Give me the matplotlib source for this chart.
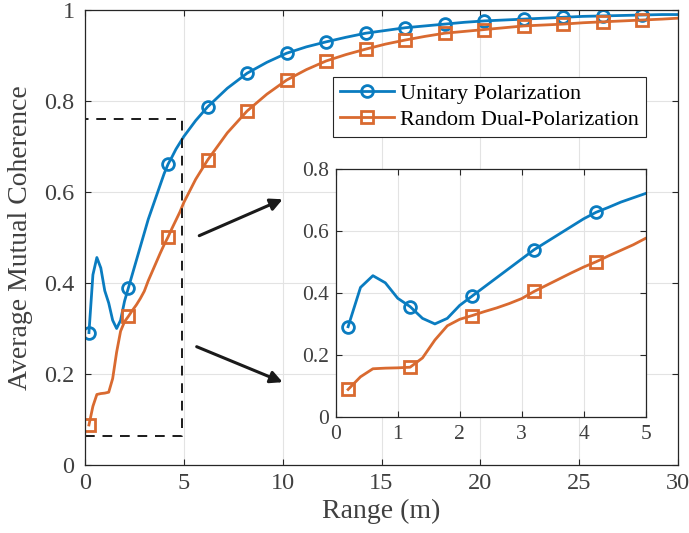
import numpy as np
import matplotlib
matplotlib.use("Agg")
import matplotlib.pyplot as plt

plt.rcParams['font.family'] = ['Liberation Serif', 'DejaVu Serif']
plt.rcParams['mathtext.fontset'] = 'stix'

# ---- data ----
range_m = [0.2, 0.4, 0.6, 0.8, 1.0, 1.2, 1.4, 1.6, 1.8, 2.0, 2.2, 2.4, 2.6, 2.8, 3.0,
           3.2, 3.4, 3.6, 3.8, 4.0, 4.2, 4.4, 4.6, 4.8, 5.0, 5.6, 6.2, 7.2, 8.2, 9.2,
           10.2, 11.2, 12.2, 13.2, 14.2, 15.2, 16.2, 17.2, 18.2, 19.2, 20.2, 21.2,
           22.2, 23.2, 24.2, 25.2, 26.2, 27.2, 28.2, 29.2, 30.0]
unitary = [0.291, 0.418, 0.456, 0.433, 0.383, 0.356, 0.318, 0.300, 0.318, 0.360, 0.390,
           0.420, 0.450, 0.480, 0.510, 0.540, 0.565, 0.590, 0.615, 0.640, 0.661, 0.677,
           0.694, 0.708, 0.722, 0.757, 0.787, 0.828, 0.861, 0.885, 0.905, 0.919, 0.930,
           0.940, 0.949, 0.955, 0.961, 0.965, 0.969, 0.973, 0.976, 0.978, 0.980, 0.982,
           0.984, 0.986, 0.987, 0.988, 0.989, 0.990, 0.990]
dual = [0.088, 0.129, 0.155, 0.157, 0.158, 0.160, 0.190, 0.248, 0.294, 0.315, 0.327,
        0.340, 0.352, 0.366, 0.382, 0.405, 0.425, 0.445, 0.465, 0.484, 0.501, 0.520,
        0.538, 0.556, 0.577, 0.628, 0.670, 0.730, 0.778, 0.815, 0.846, 0.869, 0.888,
        0.902, 0.914, 0.925, 0.934, 0.942, 0.949, 0.953, 0.957, 0.961, 0.965, 0.967,
        0.969, 0.972, 0.974, 0.976, 0.978, 0.980, 0.982]
main_marker_x = [0.2, 2.2, 4.2, 6.2, 8.2, 10.2, 12.2, 14.2, 16.2, 18.2, 20.2, 22.2,
                 24.2, 26.2, 28.2]
inset_marker_x = [0.2, 1.2, 2.2, 3.2, 4.2]
labels = ['Unitary Polarization', 'Random Dual-Polarization']
main_xticks = [0, 5, 10, 15, 20, 25, 30]
main_yticks = [0, 0.2, 0.4, 0.6, 0.8, 1]
inset_xticks = [0, 1, 2, 3, 4, 5]
inset_yticks = [0, 0.2, 0.4, 0.6, 0.8]

x = np.array(range_m)
main_idx = [int(i) for i in np.where(np.isin(np.round(x, 1), main_marker_x))[0]]
inset_idx = [int(i) for i in np.where(np.isin(np.round(x, 1), inset_marker_x))[0]]

blue = '#0A7CC0'
orange = '#D96A30'
dark = '#262626'
gridc = '#e3e3e3'
textc = '#404040'

fig = plt.figure(figsize=(6.89, 5.33), dpi=100)
ax = fig.add_axes([85/689, 68/533, 593/689, 455/533])


def style(a, fs):
    a.grid(True, color=gridc, linewidth=0.8)
    a.set_axisbelow(True)
    for s in a.spines.values():
        s.set_color(dark)
        s.set_linewidth(0.9)
    a.tick_params(direction='in', top=True, right=True, colors=dark,
                  labelcolor=textc, labelsize=fs, length=4, width=0.8)


lw = 2.0
ax.plot(x, unitary, color=blue, lw=lw, marker='o', ms=8.5, mfc='none', mew=2,
        markevery=main_idx, label=labels[0])
ax.plot(x, dual, color=orange, lw=lw, marker='s', ms=8.5, mfc='none', mew=2,
        markevery=main_idx, label=labels[1])
ax.set_xlim(0, 30)
ax.set_ylim(0, 1)
ax.set_xticks(main_xticks)
ax.set_yticks(main_yticks)
ax.set_yticklabels(['0', '0.2', '0.4', '0.6', '0.8', '1'])
style(ax, 17.5)
ax.tick_params(axis='x', pad=6)
ax.tick_params(axis='y', pad=7.5)
ax.set_xlabel('Range (m)', fontsize=20, color=textc)
ax.xaxis.set_label_coords(0.5, -0.074)
ax.set_ylabel('Average Mutual Coherence', fontsize=20, color=textc)
ax.yaxis.set_label_coords(-0.088, 0.5)

# dashed zoom rectangle
ax.plot([0, 4.9, 4.9, 0, 0], [0.064, 0.064, 0.76, 0.76, 0.064], color='#1a1a1a',
        lw=1.4, ls=(0, (5, 4)))

# arrows
ax.annotate('', xy=(10.0, 0.584), xytext=(5.78, 0.504),
            arrowprops=dict(arrowstyle='-|>', color='#1a1a1a', lw=2.2,
                            mutation_scale=18, shrinkA=0, shrinkB=0))
ax.annotate('', xy=(10.0, 0.182), xytext=(5.65, 0.26),
            arrowprops=dict(arrowstyle='-|>', color='#1a1a1a', lw=2.2,
                            mutation_scale=18, shrinkA=0, shrinkB=0))

leg = ax.legend(loc='upper left', bbox_to_anchor=(0.418, 0.853), borderaxespad=0,
                fontsize=16, frameon=True, fancybox=False, framealpha=1,
                edgecolor=dark, handlelength=2.45, handletextpad=0.28,
                borderpad=0.3, labelspacing=0.25)
leg.get_frame().set_linewidth(0.8)

# inset
axi = fig.add_axes([335.7/689, (533-416.7)/533, 310/689, 247.4/533])
axi.plot(x, unitary, color=blue, lw=lw, marker='o', ms=8.5, mfc='none', mew=2,
         markevery=inset_idx)
axi.plot(x, dual, color=orange, lw=lw, marker='s', ms=8.5, mfc='none', mew=2,
         markevery=inset_idx)
axi.set_xlim(0, 5)
axi.set_ylim(0, 0.8)
axi.set_xticks(inset_xticks)
axi.set_yticks(inset_yticks)
axi.set_yticklabels(['0', '0.2', '0.4', '0.6', '0.8'])
style(axi, 15.5)
axi.tick_params(axis='x', pad=6)
axi.tick_params(axis='y', pad=5)
axi.set_facecolor('white')

fig.savefig('out.png', dpi=100)
